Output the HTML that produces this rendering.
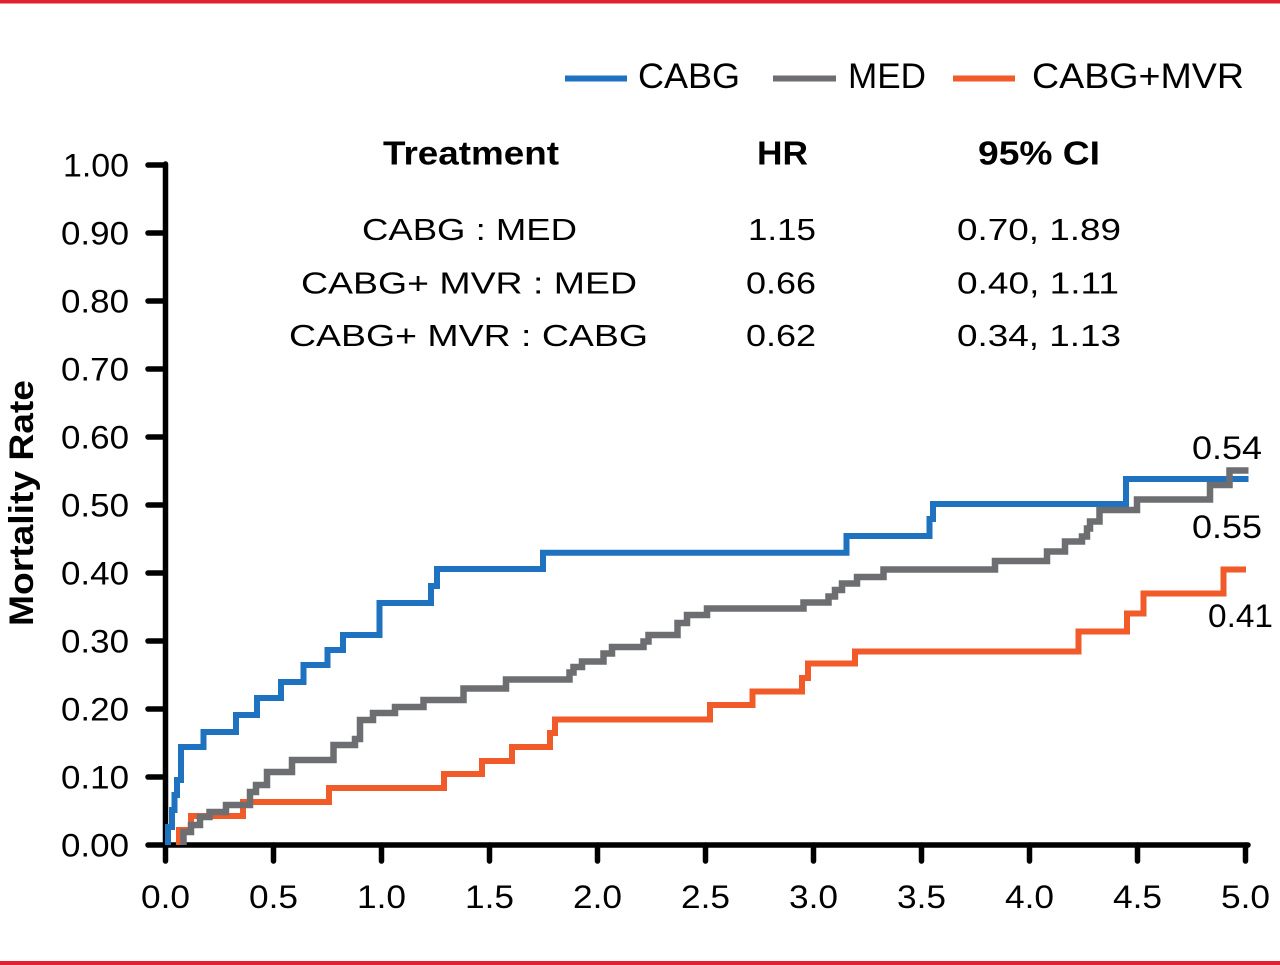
<!DOCTYPE html>
<html><head><meta charset="utf-8"><style>
html,body{margin:0;padding:0;background:#fff;}
svg{display:block;}
text{font-family:"Liberation Sans",Arial,sans-serif;fill:#000;}
</style></head><body>
<svg width="1280" height="965" viewBox="0 0 1280 965" xmlns="http://www.w3.org/2000/svg">
<rect x="0" y="0" width="1280" height="965" fill="#fff"/>
<rect x="0" y="0" width="1280" height="3.5" fill="#e0202e"/>
<rect x="0" y="961" width="1280" height="4" fill="#e0202e"/>

<!-- Legend -->
<line x1="565" y1="78.5" x2="627" y2="78.5" stroke="#1f72bf" stroke-width="6"/>
<text x="638" y="88" font-size="35" textLength="102" lengthAdjust="spacingAndGlyphs">CABG</text>
<line x1="773" y1="78.5" x2="836" y2="78.5" stroke="#6d6e71" stroke-width="6"/>
<text x="848" y="88" font-size="35" textLength="78" lengthAdjust="spacingAndGlyphs">MED</text>
<line x1="953" y1="78.5" x2="1015" y2="78.5" stroke="#f15a29" stroke-width="6"/>
<text x="1032" y="88" font-size="35" textLength="212" lengthAdjust="spacingAndGlyphs">CABG+MVR</text>

<!-- Table -->
<text x="383" y="164.5" font-size="33" font-weight="bold" textLength="176" lengthAdjust="spacingAndGlyphs">Treatment</text>
<text x="757" y="164.5" font-size="33" font-weight="bold" textLength="51" lengthAdjust="spacingAndGlyphs">HR</text>
<text x="978" y="164.5" font-size="33" font-weight="bold" textLength="122" lengthAdjust="spacingAndGlyphs">95% CI</text>

<text x="362" y="240" font-size="31" textLength="215" lengthAdjust="spacingAndGlyphs">CABG : MED</text>
<text x="748" y="240" font-size="31" textLength="68" lengthAdjust="spacingAndGlyphs">1.15</text>
<text x="957" y="240" font-size="31" textLength="164" lengthAdjust="spacingAndGlyphs">0.70, 1.89</text>

<text x="301" y="293.5" font-size="31" textLength="336" lengthAdjust="spacingAndGlyphs">CABG+ MVR : MED</text>
<text x="746" y="293.5" font-size="31" textLength="70" lengthAdjust="spacingAndGlyphs">0.66</text>
<text x="957" y="293.5" font-size="31" textLength="162" lengthAdjust="spacingAndGlyphs">0.40, 1.11</text>

<text x="289" y="346" font-size="31" textLength="359" lengthAdjust="spacingAndGlyphs">CABG+ MVR : CABG</text>
<text x="746" y="346" font-size="31" textLength="70" lengthAdjust="spacingAndGlyphs">0.62</text>
<text x="957" y="346" font-size="31" textLength="164" lengthAdjust="spacingAndGlyphs">0.34, 1.13</text>

<!-- Y axis label -->
<text transform="translate(33,503) rotate(-90)" text-anchor="middle" font-size="34" font-weight="bold" textLength="246" lengthAdjust="spacingAndGlyphs">Mortality Rate</text>

<!-- Y ticks labels -->
<g font-size="32" text-anchor="end">
<text x="129" y="176.5" textLength="66" lengthAdjust="spacingAndGlyphs">1.00</text>
<text x="129" y="244.5" textLength="68" lengthAdjust="spacingAndGlyphs">0.90</text>
<text x="129" y="312.5" textLength="68" lengthAdjust="spacingAndGlyphs">0.80</text>
<text x="129" y="380.5" textLength="68" lengthAdjust="spacingAndGlyphs">0.70</text>
<text x="129" y="448.5" textLength="68" lengthAdjust="spacingAndGlyphs">0.60</text>
<text x="129" y="516.5" textLength="68" lengthAdjust="spacingAndGlyphs">0.50</text>
<text x="129" y="584.5" textLength="68" lengthAdjust="spacingAndGlyphs">0.40</text>
<text x="129" y="652.5" textLength="68" lengthAdjust="spacingAndGlyphs">0.30</text>
<text x="129" y="720.5" textLength="68" lengthAdjust="spacingAndGlyphs">0.20</text>
<text x="129" y="788.5" textLength="68" lengthAdjust="spacingAndGlyphs">0.10</text>
<text x="129" y="856.5" textLength="68" lengthAdjust="spacingAndGlyphs">0.00</text>
</g>

<!-- X tick labels -->
<g font-size="32" text-anchor="middle">
<text x="165.5" y="908" textLength="49" lengthAdjust="spacingAndGlyphs">0.0</text>
<text x="273.5" y="908" textLength="49" lengthAdjust="spacingAndGlyphs">0.5</text>
<text x="381.5" y="908" textLength="49" lengthAdjust="spacingAndGlyphs">1.0</text>
<text x="489.5" y="908" textLength="49" lengthAdjust="spacingAndGlyphs">1.5</text>
<text x="597.5" y="908" textLength="49" lengthAdjust="spacingAndGlyphs">2.0</text>
<text x="705.5" y="908" textLength="49" lengthAdjust="spacingAndGlyphs">2.5</text>
<text x="813.5" y="908" textLength="49" lengthAdjust="spacingAndGlyphs">3.0</text>
<text x="921.5" y="908" textLength="49" lengthAdjust="spacingAndGlyphs">3.5</text>
<text x="1029.5" y="908" textLength="49" lengthAdjust="spacingAndGlyphs">4.0</text>
<text x="1137.5" y="908" textLength="49" lengthAdjust="spacingAndGlyphs">4.5</text>
<text x="1245.5" y="908" textLength="49" lengthAdjust="spacingAndGlyphs">5.0</text>
</g>

<!-- Axes -->
<g stroke="#000" stroke-width="5.5" stroke-linecap="round" fill="none">
<path d="M165.5,164 V845 H1248"/>
<path d="M148,165 H165 M148,233 H165 M148,301 H165 M148,369 H165 M148,437 H165 M148,505 H165 M148,573 H165 M148,641 H165 M148,709 H165 M148,777 H165 M148,845 H165"/>
<path d="M165.5,845 V861 M273.5,845 V861 M381.5,845 V861 M489.5,845 V861 M597.5,845 V861 M705.5,845 V861 M813.5,845 V861 M921.5,845 V861 M1029.5,845 V861 M1137.5,845 V861 M1245.5,845 V861"/>
</g>

<!-- Series -->
<g fill="none" stroke-linejoin="miter" stroke-linecap="butt">
<path stroke="#1f72bf" stroke-width="6" d="M168,845 V827 H172 V810 H174.5 V795 H177 V780 H181 V747 H203.5 V732 H236 V715 H257 V698 H281 V682 H303.5 V665 H327.5 V650 H343 V635 H379.5 V603 H431 V586 H437 V569 H543 V552.7 H846.5 V536 H929.5 V519 H933 V504 H1126 V479 H1248.5"/>
<path stroke="#f15a29" stroke-width="6" d="M179,845 V830 H191 V816 H243 V802 H329 V788 H444 V774 H482 V761 H512 V747 H550 V733 H555 V719.5 H710 V705 H752.5 V691.5 H802 V678 H808 V663.5 H855 V651.5 H1078.5 V631.5 H1127 V613.5 H1143.5 V593.5 H1223.5 V569.5 H1246"/>
<path stroke="#6d6e71" stroke-width="6.5" d="M183.5,845 V832 H191 V825 H200 V817 H209.5 V812 H226 V805 H250 V792 H256 V785 H267 V772 H292 V760 H333.5 V745 H355 V739 H360 V720 H373 V713 H395 V707 H423.5 V700 H463.5 V688.5 H506 V679.5 H569.5 V672.5 H573.5 V667 H582 V661.5 H603.5 V653.5 H612 V647 H643.5 V641.5 H648.5 V635 H677.5 V623 H687 V615 H707 V608.5 H803.5 V602.5 H828.5 V596.5 H835 V590 H842 V583.5 H857 V577 H883.5 V569.5 H995 V561 H1047 V551.5 H1065 V541.5 H1082 V536.5 H1087 V528.5 H1090 V521.5 H1099.5 V510 H1137 V499.5 H1210 V485 H1229.5 V470.5 H1248.5"/>
</g>

<!-- End labels -->
<g font-size="32">
<text x="1192" y="459" textLength="70" lengthAdjust="spacingAndGlyphs">0.54</text>
<text x="1192" y="538" textLength="70" lengthAdjust="spacingAndGlyphs">0.55</text>
<text x="1208" y="627" textLength="65" lengthAdjust="spacingAndGlyphs">0.41</text>
</g>
</svg>
</body></html>
